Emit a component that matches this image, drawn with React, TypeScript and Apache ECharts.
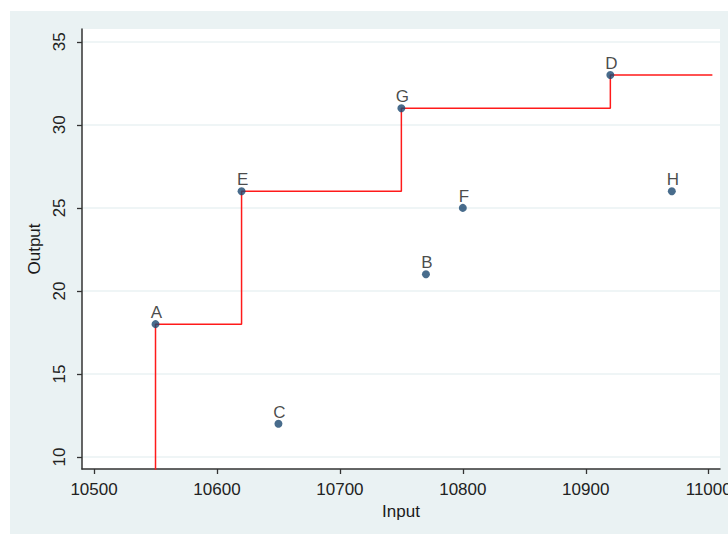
import React, { useEffect, useRef } from "react";
import * as echarts from "echarts";

const pointNames = ["A", "B", "C", "D", "E", "F", "G", "H"];
const inputValues = [10550, 10770, 10650, 10920, 10620, 10800, 10750, 10970];
const outputValues = [18, 21, 12, 33, 26, 25, 31, 26];

const frontierX = [10550, 10550, 10620, 10750, 10920, 11003];
const frontierY = [9, 18, 26, 31, 33, 33];

const xTicks = [10500, 10600, 10700, 10800, 10900, 11000];
const yTicks = [10, 15, 20, 25, 30, 35];

const X_MIN = 10490.2;
const X_MAX = 11009.2;
const Y_MIN = 9.28;
const Y_MAX = 35.77;

export default function App() {
  const ref = useRef<HTMLDivElement>(null);
  useEffect(() => {
    if (!ref.current) return;
    const chart = echarts.init(ref.current, null, { renderer: "svg" });
    const font = "'Liberation Sans', Arial, sans-serif";
    chart.setOption({
      animation: false,
      backgroundColor: "#eaf2f3",
      textStyle: { fontFamily: font },
      grid: {
        left: 72,
        right: 8,
        top: 18,
        bottom: 65,
        outerBoundsMode: "none",
        containLabel: false,
        show: true,
        backgroundColor: "#ffffff",
        borderWidth: 0,
      },
      xAxis: {
        type: "value",
        min: X_MIN,
        max: X_MAX,
        name: "Input",
        nameLocation: "middle",
        nameGap: 27,
        nameTextStyle: { fontSize: 17, color: "#1a1a1a", fontFamily: font },
        axisLine: { show: true, onZero: false, lineStyle: { color: "#333", width: 1.5 } },
        axisTick: { show: true, length: 5, customValues: xTicks, lineStyle: { color: "#333", width: 1.3 } },
        axisLabel: {
          customValues: xTicks,
          margin: 12,
          fontSize: 17,
          color: "#222",
          fontFamily: font,
          formatter: (v: number) => String(v),
          hideOverlap: false,
        },
        splitLine: { show: false },
      },
      yAxis: {
        type: "value",
        min: Y_MIN,
        max: Y_MAX,
        name: "Output",
        nameLocation: "middle",
        nameGap: 30,
        nameRotate: 90,
        nameTextStyle: { fontSize: 17, color: "#1a1a1a", fontFamily: font },
        axisLine: { show: true, onZero: false, lineStyle: { color: "#333", width: 1.5 } },
        axisTick: { show: true, length: 5, customValues: yTicks, lineStyle: { color: "#333", width: 1.3 } },
        axisLabel: {
          customValues: yTicks,
          rotate: 90,
          margin: 14,
          fontSize: 17,
          color: "#222",
          fontFamily: font,
          formatter: (v: number) => String(v),
        },
        splitLine: { show: true, lineStyle: { color: "#eaf2f3", width: 1.5 } },
      },
      series: [
        {
          type: "line",
          step: "end",
          data: frontierX.map((x, i) => [x, frontierY[i]]),
          symbol: "none",
          lineStyle: { color: "#ff1a1a", width: 1.5 },
          clip: true,
          z: 2,
        },
        {
          type: "scatter",
          data: inputValues.map((x, i) => ({ value: [x, outputValues[i]], name: pointNames[i] })),
          symbol: "circle",
          symbolSize: 8,
          itemStyle: { color: "#1a476f" },
          label: {
            show: true,
            position: "top",
            distance: 0,
            offset: [1, 1],
            formatter: (p: any) => p.name,
            fontSize: 17,
            color: "#1a1a1a",
            fontFamily: font,
          },
          z: 3,
        },
      ],
    });
    return () => chart.dispose();
  }, []);
  return (
    <div
      ref={ref}
      style={{ position: "fixed", left: 10, top: 11, width: 718, height: 523 }}
    />
  );
}
